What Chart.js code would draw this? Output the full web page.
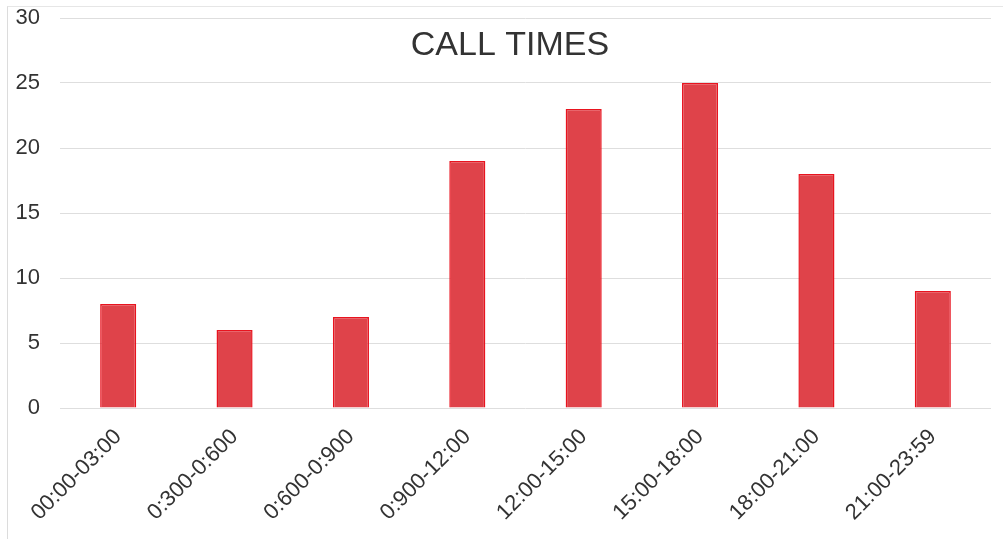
<!DOCTYPE html>
<html>
<head>
<meta charset="utf-8">
<script src="https://cdn.jsdelivr.net/npm/chart.js@4"></script>
<style>
  html, body { margin: 0; padding: 0; background: #fff; }
  #wrap { position: relative; width: 1003px; height: 539px; }
  #frame { position: absolute; left: 7px; top: 6px; width: 1000px; height: 540px;
           border-left: 1px solid #dcdcdc; border-top: 1px solid #e6e6e6; pointer-events: none; }
</style>
</head>
<body>
<div id="wrap">
  <canvas id="chart" width="1003" height="539"></canvas>
  <div id="frame"></div>
</div>
<script>
const categories = ['00:00-03:00', '0:300-0:600', '0:600-0:900', '0:900-12:00',
                    '12:00-15:00', '15:00-18:00', '18:00-21:00', '21:00-23:59'];
const callCounts = [8, 6, 7, 19, 23, 25, 18, 9];
const chartTitle = 'CALL TIMES';

// title sits inside the plot area, between the 30 and 25 gridlines
const innerTitle = {
    id: 'innerTitle',
    afterDraw(chart) {
        const { ctx, chartArea } = chart;
        ctx.save();
        ctx.font = '34px "Liberation Sans", Arial, sans-serif';
        ctx.fillStyle = '#333';
        ctx.textAlign = 'center';
        ctx.textBaseline = 'middle';
        ctx.fillText(chartTitle, 510, chartArea.top + 28);
        ctx.restore();
    }
};

new Chart(document.getElementById('chart'), {
    type: 'bar',
    data: {
        labels: categories,
        datasets: [{
            data: callCounts,
            backgroundColor: '#df434a',
            borderColor: '#e8141f',
            borderWidth: 1.5,
            categoryPercentage: 1,
            barPercentage: 0.31
        }]
    },
    options: {
        responsive: false,
        animation: false,
        layout: { padding: { top: 18, right: 12, left: 0, bottom: 0 } },
        plugins: { legend: { display: false }, tooltip: { enabled: false } },
        scales: {
            y: {
                min: 0, max: 30,
                ticks: { stepSize: 5, color: '#333', padding: 20,
                         font: { family: '"Liberation Sans", Arial, sans-serif', size: 22 } },
                grid: { color: '#dedede', drawTicks: false },
                border: { display: false },
                afterFit(scale) {
                    scale.width = 60;
                    scale.paddingTop = 0;
                    scale.paddingBottom = 0;
                }
            },
            x: {
                ticks: { color: '#333', maxRotation: 45, minRotation: 45, padding: 8,
                         font: { family: '"Liberation Sans", Arial, sans-serif', size: 22 } },
                grid: { display: false },
                border: { display: false },
                afterFit(scale) { scale.height = 131; }
            }
        }
    },
    plugins: [innerTitle]
});
</script>
</body>
</html>
